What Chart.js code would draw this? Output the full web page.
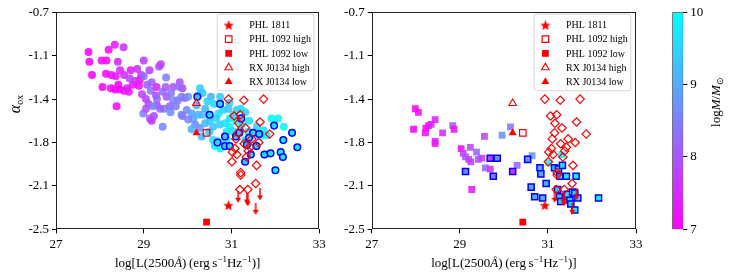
<!DOCTYPE html>
<html>
<head>
<meta charset="utf-8">
<script src="https://cdn.jsdelivr.net/npm/chart.js@4.4.0/dist/chart.umd.min.js"></script>
<style>
html, body { margin: 0; padding: 0; background: #fff; }
#wrap { position: relative; width: 731px; height: 278px; overflow: hidden; }
.box { position: absolute; top: 0; height: 278px; }
</style>
</head>
<body>
<div id="wrap">
  <div class="box" style="left:0;width:330px"><canvas id="left"></canvas></div>
  <div class="box" style="left:330px;width:330px"><canvas id="right"></canvas></div>
  <div class="box" style="left:660px;width:71px"><canvas id="cbar"></canvas></div>
</div>
<script>
// ---- data: [log L2500, alpha_ox, log M] ----

var xTickValues = [27, 29, 31, 33];
var yTickValues = [-0.7, -1.06, -1.42, -1.78, -2.14, -2.5];
var massTicks = [7, 8, 9, 10];

var phl1811 = [[30.93, -2.30]];
var phl1092High = [[30.43, -1.70]];
var phl1092Low = [[30.43, -2.44]];
var rxHigh = [[30.20, -1.455]];
var rxLow = [[30.20, -1.70]];

// upper limits (arrows)
var upperLimits = [[31.15, -2.23], [31.35, -2.245], [31.37, -2.26], [31.65, -2.21], [31.55, -2.33]];

// open red diamonds (same in both panels)
var diamonds = [
  [30.93, -1.42], [31.28, -1.43], [31.73, -1.42], [31.06, -1.56], [31.20, -1.55],
  [31.16, -1.62], [31.65, -1.61], [31.32, -1.66], [31.15, -1.70], [31.87, -1.71],
  [31.10, -1.75], [31.46, -1.75], [31.62, -1.78], [31.29, -1.79], [31.42, -1.82],
  [31.08, -1.83], [31.38, -1.85], [31.02, -1.86], [31.12, -1.88], [31.01, -1.94],
  [31.57, -1.97], [31.21, -2.03], [31.21, -2.05], [31.19, -2.17], [31.37, -2.17],
  [31.55, -2.12], [31.34, -1.90]
];

// left panel, plain circles
var circles = [
  [27.74, -1.03, 7.0], [27.76, -1.11, 7.0], [27.82, -1.22, 7.0], [28.06, -1.32, 7.0],
  [28.20, -1.01, 7.1], [28.34, -0.97, 7.3], [28.54, -0.99, 7.6], [28.04, -1.10, 7.1],
  [28.15, -1.10, 7.1], [28.41, -1.11, 7.5], [28.14, -1.21, 7.1], [28.26, -1.22, 7.2],
  [28.36, -1.23, 7.3], [28.46, -1.18, 7.4], [28.55, -1.22, 7.5], [28.70, -1.18, 7.3],
  [28.85, -1.17, 7.6], [29.00, -1.10, 7.7], [29.13, -1.18, 7.7], [28.94, -1.22, 7.6],
  [28.91, -1.26, 7.2], [28.25, -1.33, 7.1], [28.35, -1.34, 7.1], [28.45, -1.34, 7.2],
  [28.55, -1.35, 7.2], [28.62, -1.33, 7.3], [28.38, -1.48, 7.1], [28.42, -1.30, 7.0],
  [28.75, -1.30, 7.2], [28.66, -1.36, 7.3], [28.89, -1.31, 7.1], [28.80, -1.27, 7.5],
  [28.68, -1.25, 7.8], [28.96, -1.38, 7.8], [29.08, -1.30, 8.0], [29.00, -1.23, 8.3],
  [29.16, -1.35, 8.4], [29.18, -1.28, 8.2], [29.29, -1.32, 7.4], [29.35, -1.15, 7.8],
  [29.39, -1.13, 7.8], [29.51, -1.24, 8.5], [29.05, -1.42, 7.8], [29.11, -1.46, 7.8],
  [29.28, -1.39, 7.8], [28.99, -1.54, 8.5], [29.14, -1.58, 8.0], [29.18, -1.60, 7.6],
  [29.43, -1.65, 8.6], [29.23, -1.56, 7.9], [29.05, -1.50, 7.9], [29.30, -1.47, 7.7],
  [29.67, -1.32, 8.0], [29.88, -1.33, 7.8], [29.82, -1.28, 7.9], [29.43, -1.36, 8.3],
  [29.52, -1.40, 8.0], [29.30, -1.42, 8.3], [29.67, -1.43, 8.6], [29.78, -1.43, 8.5],
  [29.86, -1.40, 8.5], [29.94, -1.41, 8.2], [30.01, -1.40, 8.8], [29.59, -1.48, 8.2],
  [29.73, -1.48, 8.5], [29.46, -1.50, 8.4], [29.20, -1.48, 8.6], [29.37, -1.50, 8.2],
  [29.61, -1.53, 8.7], [29.86, -1.55, 8.8], [29.98, -1.51, 8.6], [30.09, -1.54, 8.9],
  [29.82, -1.32, 8.3], [29.50, -1.32, 8.1], [29.62, -1.37, 8.4], [30.28, -1.33, 9.5],
  [30.24, -1.39, 9.3], [30.34, -1.37, 9.4], [30.53, -1.40, 9.1], [30.74, -1.40, 9.4],
  [30.13, -1.58, 9.0], [30.01, -1.59, 8.6], [29.88, -1.56, 8.4], [30.17, -1.63, 8.6],
  [30.28, -1.66, 8.8], [30.09, -1.67, 9.1], [30.32, -1.73, 9.2], [30.20, -1.47, 9.0],
  [30.40, -1.50, 9.2], [30.45, -1.44, 9.5], [30.35, -1.55, 9.3], [30.60, -1.46, 9.6],
  [30.58, -1.65, 9.3], [30.74, -1.63, 9.4], [30.85, -1.62, 9.7], [30.96, -1.58, 9.6],
  [31.04, -1.55, 9.5], [30.70, -1.54, 9.7], [30.81, -1.51, 9.6], [30.93, -1.50, 9.3],
  [31.12, -1.51, 9.4], [31.21, -1.50, 9.7], [31.31, -1.53, 9.5], [30.96, -1.65, 9.8],
  [30.89, -1.69, 9.7], [31.04, -1.69, 9.6], [31.19, -1.68, 9.5], [31.38, -1.69, 9.6],
  [31.47, -1.72, 9.8], [31.65, -1.73, 9.9], [31.80, -1.72, 9.8], [31.91, -1.58, 9.9],
  [32.06, -1.58, 9.9], [32.19, -1.65, 9.9], [30.68, -1.77, 9.8], [30.62, -1.81, 9.9],
  [30.74, -1.83, 9.9], [30.81, -1.79, 9.8], [30.89, -1.75, 9.7], [31.31, -1.76, 9.6],
  [31.73, -1.68, 9.7], [31.58, -1.65, 9.5], [30.58, -1.76, 9.6], [30.49, -1.69, 9.3],
  [31.55, -1.81, 9.8], [31.23, -1.63, 9.8], [30.65, -1.58, 9.5], [30.50, -1.60, 9.4],
  [31.10, -1.60, 9.9], [30.95, -1.45, 9.4], [31.40, -1.60, 9.7], [30.40, -1.62, 9.2],
  [30.25, -1.55, 9.1]
];

// left panel, blue-edged circles
var edgedCircles = [
  [30.22, -1.40, 9.3], [30.50, -1.55, 9.5], [30.74, -1.46, 9.6], [30.85, -1.73, 9.2],
  [30.68, -1.78, 9.6], [30.85, -1.81, 9.3], [30.96, -1.81, 9.5], [31.22, -1.58, 9.4],
  [31.10, -1.73, 9.6], [31.18, -1.70, 9.5], [31.40, -1.74, 9.5], [31.49, -1.70, 9.6],
  [31.63, -1.71, 9.4], [31.57, -1.81, 9.2], [31.44, -1.88, 9.5], [31.31, -1.94, 9.5],
  [31.75, -1.88, 9.6], [31.89, -1.87, 9.7], [31.97, -1.64, 9.5], [32.18, -1.76, 9.7],
  [32.12, -1.86, 9.8], [32.17, -1.90, 9.6], [32.00, -2.01, 9.9], [32.38, -1.70, 9.6],
  [32.50, -1.82, 9.8], [31.35, -1.80, 9.4]
];

// right panel, plain squares
var squares = [
  [27.99, -1.50, 7.0], [28.06, -1.53, 7.1], [27.95, -1.67, 7.0], [28.23, -1.66, 7.1],
  [28.29, -1.64, 7.2], [28.35, -1.63, 7.4], [28.44, -1.59, 7.4], [28.22, -1.70, 7.2],
  [28.61, -1.70, 7.5], [28.44, -1.77, 7.3], [28.44, -1.79, 7.3], [28.84, -1.64, 8.0],
  [28.87, -1.67, 7.2], [29.03, -1.83, 7.1], [29.08, -1.87, 7.8], [29.13, -1.90, 7.9],
  [29.20, -1.92, 7.8], [29.24, -1.82, 7.9], [29.38, -1.86, 8.1], [29.42, -1.92, 8.0],
  [29.50, -1.91, 7.7], [29.25, -1.94, 7.7], [29.56, -1.73, 7.8], [29.58, -1.99, 8.2],
  [29.69, -2.00, 7.6], [29.27, -2.17, 7.3], [29.96, -1.72, 8.7], [30.15, -1.65, 8.3],
  [30.30, -1.97, 8.2], [30.64, -1.89, 8.8], [31.02, -1.95, 9.9], [31.31, -1.88, 9.9]
];

// right panel, blue-edged squares
var edgedSquares = [
  [29.69, -1.91, 7.7], [29.85, -1.91, 8.7], [29.76, -2.06, 8.4], [29.13, -2.02, 8.6],
  [30.20, -2.02, 7.6], [30.54, -1.92, 8.8], [30.62, -2.15, 9.0], [30.70, -2.23, 9.0],
  [30.88, -2.24, 9.1], [30.82, -1.99, 9.0], [30.84, -2.04, 9.1], [30.96, -2.12, 9.1],
  [31.15, -1.99, 9.2], [31.24, -2.00, 9.5], [31.33, -1.97, 9.5], [31.27, -2.06, 9.7],
  [31.42, -2.06, 9.8], [31.64, -2.06, 9.8], [31.22, -2.17, 9.5], [31.26, -2.23, 9.3],
  [31.29, -2.27, 9.5], [31.42, -2.23, 9.7], [31.44, -2.21, 9.8], [31.50, -2.26, 9.4],
  [31.56, -2.19, 9.7], [31.61, -2.20, 9.6], [31.68, -2.24, 9.8], [31.52, -2.29, 9.5],
  [31.61, -2.34, 9.8], [32.15, -2.24, 9.9]
];

var SERIF = "'Liberation Serif', 'Times New Roman', Times, serif";
var RED = '#ff0000';
var EDGE = '#0000ff';

// matplotlib "cool" colormap, 7 -> magenta, 10 -> cyan
function cool(m, a) {
    var t = Math.min(1, Math.max(0, (m - massTicks[0]) / (massTicks[3] - massTicks[0])));
    return 'rgba(' + Math.round(255 * (1 - t)) + ',' + Math.round(255 * t) + ',255,' + a + ')';
}

function pts(list) {
    return list.map(function(p) { return {x: p[0], y: p[1]}; });
}

function starImage(r) {
    var c = document.createElement('canvas');
    var s = Math.ceil(r * 2 + 2);
    c.width = s; c.height = s;
    var g = c.getContext('2d');
    g.fillStyle = RED;
    g.beginPath();
    for (var i = 0; i < 10; i++) {
        var rr = i % 2 ? r * 0.42 : r;
        var a = -Math.PI / 2 + i * Math.PI / 5;
        g.lineTo(s / 2 + rr * Math.cos(a), s / 2 + 0.6 + rr * Math.sin(a));
    }
    g.closePath();
    g.fill();
    return c;
}

function arrowImage() {
    var c = document.createElement('canvas');
    c.width = 8; c.height = 12;
    var g = c.getContext('2d');
    g.strokeStyle = RED; g.fillStyle = RED; g.lineWidth = 1.5;
    g.beginPath(); g.moveTo(4, 0); g.lineTo(4, 8); g.stroke();
    g.beginPath(); g.moveTo(1, 7); g.lineTo(7, 7); g.lineTo(4, 12); g.closePath(); g.fill();
    return c;
}

var starImg = starImage(5.5);
var arrowImg = arrowImage();
var NONE = 'rgba(0,0,0,0)';

function panelDatasets(main, edged, shape, r, er) {
    return [
        {label: 'PHL 1811', inLegend: true, data: pts(phl1811), pointStyle: starImg, pointRadius: 5,
            pointBackgroundColor: RED, pointBorderColor: RED, pointBorderWidth: 0},
        {label: 'PHL 1092 high', inLegend: true, data: pts(phl1092High), pointStyle: 'rect', pointRadius: 4.6,
            pointBackgroundColor: NONE, pointBorderColor: RED, pointBorderWidth: 1.2},
        {label: 'PHL 1092 low', inLegend: true, data: pts(phl1092Low), pointStyle: 'rect', pointRadius: 4.8,
            pointBackgroundColor: RED, pointBorderColor: RED, pointBorderWidth: 0},
        {label: 'RX J0134 high', inLegend: true, data: pts(rxHigh), pointStyle: 'triangle', pointRadius: 4.4,
            pointBackgroundColor: NONE, pointBorderColor: RED, pointBorderWidth: 1.1},
        {label: 'RX J0134 low', inLegend: true, data: pts(rxLow), pointStyle: 'triangle', pointRadius: 4.6,
            pointBackgroundColor: RED, pointBorderColor: RED, pointBorderWidth: 0},
        {label: 'limits', data: pts(upperLimits), pointStyle: arrowImg, pointRadius: 5,
            pointBackgroundColor: RED, pointBorderWidth: 0},
        {label: 'diamonds', data: pts(diamonds), pointStyle: 'rectRot', pointRadius: 4.2,
            pointBackgroundColor: NONE, pointBorderColor: RED, pointBorderWidth: 1.2},
        {label: 'edged', data: pts(edged), pointStyle: shape, pointRadius: er,
            pointBackgroundColor: edged.map(function(p) { return cool(p[2], 1); }),
            pointBorderColor: EDGE, pointBorderWidth: 1.5},
        {label: 'main', data: pts(main), pointStyle: shape, pointRadius: r,
            pointBackgroundColor: main.map(function(p) { return cool(p[2], 0.88); }),
            pointBorderWidth: 0}
    ];
}

var framePlugin = {
    id: 'frame',
    afterDatasetsDraw: function(chart) {
        var a = chart.chartArea, ctx = chart.ctx;
        ctx.save();
        ctx.strokeStyle = '#222';
        ctx.lineWidth = 1;
        ctx.strokeRect(Math.round(a.left) + 0.5, Math.round(a.top) + 0.5,
            Math.round(a.right - a.left) - 1, Math.round(a.bottom - a.top) - 1);
        ctx.restore();
    }
};

var legendPlugin = {
    id: 'boxLegend',
    afterDraw: function(chart) {
        var a = chart.chartArea, ctx = chart.ctx;
        var w = 96.7, h = 76.7, x0 = a.right - 5.3 - w, y0 = a.top + 1.7;
        ctx.save();
        ctx.fillStyle = 'rgba(255,255,255,0.8)';
        ctx.strokeStyle = '#d4d4d4';
        ctx.lineWidth = 1;
        ctx.beginPath();
        if (ctx.roundRect) ctx.roundRect(x0, y0, w, h, 2.5); else ctx.rect(x0, y0, w, h);
        ctx.fill();
        ctx.stroke();
        chart.data.datasets.filter(function(d) { return d.inLegend; }).forEach(function(d, i) {
            var y = y0 + 11 + i * 14.2;
            ctx.fillStyle = d.pointBackgroundColor;
            ctx.strokeStyle = d.pointBorderColor || RED;
            ctx.lineWidth = d.pointBorderWidth || 0;
            Chart.helpers.drawPoint(ctx, {pointStyle: d.pointStyle, radius: d.pointRadius,
                borderWidth: d.pointBorderWidth || 0, rotation: 0}, x0 + 11.4, y);
            ctx.fillStyle = '#000';
            ctx.font = '10px ' + SERIF;
            ctx.textAlign = 'left';
            ctx.textBaseline = 'middle';
            ctx.fillText(d.label, x0 + 32, y + 0.5);
        });
        ctx.restore();
    }
};

function drawRich(ctx, segs, cx, base) {
    var w = 0;
    segs.forEach(function(s) { ctx.font = s.f; w += ctx.measureText(s.t).width; });
    var x = cx - w / 2;
    ctx.textAlign = 'left';
    ctx.textBaseline = 'alphabetic';
    segs.forEach(function(s) {
        ctx.font = s.f;
        ctx.fillText(s.t, x, base + (s.dy || 0));
        x += ctx.measureText(s.t).width;
    });
}

var F13 = '13px ' + SERIF, I13 = 'italic 13px ' + SERIF, F9 = '9px ' + SERIF;
var xTitle = [
    {t: 'log[L(2500', f: F13}, {t: 'Å', f: I13}, {t: ')\u2009(erg\u2009s', f: F13},
    {t: '\u22121', f: F9, dy: -5}, {t: 'Hz', f: F13}, {t: '\u22121', f: F9, dy: -5}, {t: ')]', f: F13}
];
var yTitle = [{t: 'α', f: 'italic 16px ' + SERIF}, {t: 'ox', f: '10px ' + SERIF, dy: 3}];
var massTitle = [
    {t: 'log', f: F13}, {t: 'M', f: I13}, {t: '/', f: F13}, {t: 'M', f: I13}, {t: '\u2299', f: F9, dy: 3}
];

function titlePlugin(withY) {
    return {
        id: 'axisTitles',
        afterDraw: function(chart) {
            var ctx = chart.ctx, a = chart.chartArea;
            ctx.save();
            ctx.fillStyle = '#000';
            drawRich(ctx, xTitle, (a.left + a.right) / 2, 267);
            if (withY) {
                ctx.translate(15, 104);
                ctx.rotate(-Math.PI / 2);
                drawRich(ctx, yTitle, 0, 5);
            }
            ctx.restore();
        }
    };
}

var tickFont = {family: SERIF, size: 13};

function panelConfig(main, edged, shape, r, er, yWidth, padRight, withY) {
    return {
        type: 'scatter',
        data: {datasets: panelDatasets(main, edged, shape, r, er)},
        options: {
            animation: false,
            responsive: true,
            maintainAspectRatio: false,
            devicePixelRatio: 1,
            events: [],
            layout: {padding: {left: 0, top: 12.3, right: padRight, bottom: 0}},
            plugins: {legend: {display: false}, tooltip: {enabled: false}},
            scales: {
                x: {
                    type: 'linear', min: 27, max: 33,
                    afterBuildTicks: function(s) { s.ticks = xTickValues.map(function(v) { return {value: v}; }); },
                    afterFit: function(s) { s.height = 48.7; },
                    ticks: {font: tickFont, color: '#000', maxRotation: 0, padding: 3},
                    grid: {drawOnChartArea: false, tickLength: 4, color: '#000'},
                    border: {display: false}
                },
                y: {
                    type: 'linear', min: -2.5, max: -0.7,
                    afterBuildTicks: function(s) { s.ticks = yTickValues.map(function(v) { return {value: v}; }); },
                    afterFit: function(s) { s.width = yWidth; },
                    ticks: {font: tickFont, color: '#000', padding: 3,
                        callback: function(v) { return Number(v).toFixed(1); }},
                    grid: {drawOnChartArea: false, tickLength: 4, color: '#000'},
                    border: {display: false}
                }
            }
        },
        plugins: [framePlugin, legendPlugin, titlePlugin(withY)]
    };
}

new Chart(document.getElementById('left'),
    panelConfig(circles, edgedCircles, 'circle', 4, 3.3, 56, 10.7, true));
new Chart(document.getElementById('right'),
    panelConfig(squares, edgedSquares, 'rect', 4.8, 4.3, 41.7, 24, false));

// colour bar
var cbarTitlePlugin = {
    id: 'cbarTitle',
    afterDraw: function(chart) {
        var ctx = chart.ctx;
        ctx.save();
        ctx.fillStyle = '#000';
        ctx.translate(55, 102);
        ctx.rotate(-Math.PI / 2);
        drawRich(ctx, massTitle, 0, 5);
        ctx.restore();
    }
};

new Chart(document.getElementById('cbar'), {
    type: 'bar',
    data: {
        labels: [''],
        datasets: [{
            data: [[massTicks[0], massTicks[massTicks.length - 1]]],
            backgroundColor: function(c) {
                var ch = c.chart;
                if (!ch.chartArea) return cool(8.5, 1);
                var y = ch.scales.y;
                var g = ch.ctx.createLinearGradient(0, y.getPixelForValue(massTicks[0]), 0,
                    y.getPixelForValue(massTicks[massTicks.length - 1]));
                g.addColorStop(0, cool(massTicks[0], 1));
                g.addColorStop(1, cool(massTicks[massTicks.length - 1], 1));
                return g;
            },
            borderColor: '#333',
            borderWidth: 0.8,
            borderSkipped: false,
            barPercentage: 1,
            categoryPercentage: 1
        }]
    },
    options: {
        animation: false,
        responsive: true,
        maintainAspectRatio: false,
        devicePixelRatio: 1,
        events: [],
        layout: {padding: {left: 12.3, top: 12.3, right: 0, bottom: 48.7}},
        plugins: {legend: {display: false}, tooltip: {enabled: false}},
        scales: {
            x: {display: false},
            y: {
                position: 'right', min: massTicks[0], max: massTicks[massTicks.length - 1],
                afterBuildTicks: function(s) { s.ticks = massTicks.map(function(v) { return {value: v}; }); },
                afterFit: function(s) { s.width = 47.7; },
                ticks: {font: tickFont, color: '#000', padding: 3},
                grid: {drawOnChartArea: false, tickLength: 4, color: '#000'},
                border: {display: false}
            }
        }
    },
    plugins: [cbarTitlePlugin]
});
</script>
</body>
</html>
